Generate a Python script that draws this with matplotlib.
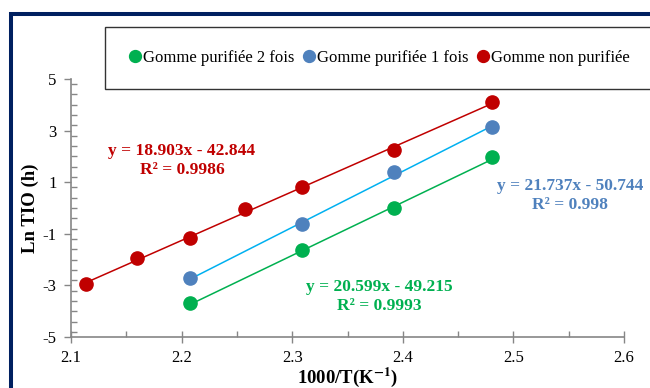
import numpy as np
import matplotlib
matplotlib.use("Agg")
import matplotlib.pyplot as plt
from matplotlib.patches import Rectangle
from matplotlib.ticker import MultipleLocator

plt.rcParams['font.family'] = ['Liberation Serif', 'DejaVu Serif']
plt.rcParams['mathtext.fontset'] = 'stix'

# Data
x_red = [2.114, 2.160, 2.2075, 2.257, 2.309, 2.392, 2.481]
y_red = [-2.95, -1.94, -1.16, -0.04, 0.81, 2.25, 4.11]
x_blue = [2.2075, 2.309, 2.392, 2.481]
y_blue = [-2.71, -0.62, 1.40, 3.14]
x_green = [2.2075, 2.309, 2.392, 2.481]
y_green = [-3.68, -1.63, 0.00, 1.98]

labels = ["Gomme purifiée 2 fois", "Gomme purifiée 1 fois", "Gomme non purifiée"]
slopes = {"red": 18.903, "blue": 21.737, "green": 20.599}
intercepts = {"red": -42.844, "blue": -50.744, "green": -49.215}
r2s = {"red": "0.9986", "blue": "0.998", "green": "0.9993"}
x_ticks = [2.1, 2.2, 2.3, 2.4, 2.5, 2.6]
y_ticks = [-5, -3, -1, 1, 3, 5]

c_red = "#C00000"
c_blue_m = "#4F81BD"
c_blue_l = "#00B0F0"
c_green = "#00B050"

fig = plt.figure(figsize=(6.5, 3.88), dpi=100)
ax = fig.add_axes([71/650, 1-337/388, (624-71)/650, (337-79)/388])

def trend(xs, key, color):
    m, b = slopes[key], intercepts[key]
    xx = np.array([min(xs), max(xs)])
    ax.plot(xx, m*xx + b, color=color, lw=1.1, zorder=2)

trend(x_red, "red", c_red)
trend(x_blue, "blue", c_blue_l)
trend(x_green, "green", c_green)

ms = 9.5
hg, = ax.plot(x_green, y_green, 'o', color=c_green, ms=ms, mec=c_green, zorder=3, label=labels[0])
hb, = ax.plot(x_blue, y_blue, 'o', color=c_blue_m, ms=ms, mec=c_blue_m, zorder=3, label=labels[1])
hr, = ax.plot(x_red, y_red, 'o', color=c_red, ms=ms, mec=c_red, zorder=3, label=labels[2])

ax.set_xlim(2.1, 2.6)
ax.set_ylim(-5, 5)
ax.xaxis.set_minor_locator(MultipleLocator(0.05))
ax.yaxis.set_minor_locator(MultipleLocator(0.4))
ax.set_xticks(x_ticks)
ax.set_xticklabels(["%g" % v for v in x_ticks])
ax.set_yticks(y_ticks)
ax.set_yticklabels(["%g" % v for v in y_ticks])

for s in ["top", "right"]:
    ax.spines[s].set_visible(False)
for s in ["left", "bottom"]:
    ax.spines[s].set_color("#868686")
    ax.spines[s].set_linewidth(1.2)

ax.tick_params(axis='x', which='major', direction='inout', length=8, color="#868686", width=1, labelsize=12, pad=5)
ax.tick_params(axis='x', which='minor', direction='in', length=4, color="#868686", width=1)
ax.tick_params(axis='y', which='major', direction='out', length=5, color="#868686", width=1, labelsize=12, pad=5.5)
ax.tick_params(axis='y', which='minor', direction='in', length=4, color="#868686", width=1)

ax.set_xlabel(r"1000/T(K$^{\mathbf{-1}}$)", fontsize=13.5, fontweight='bold', labelpad=0)
ax.set_ylabel("Ln TIO (h)", fontsize=13.5, fontweight='bold', labelpad=2.5)

def eqtext(key):
    return "y = %.3fx - %.3f\nR² = %s" % (slopes[key], -intercepts[key], r2s[key])

kw = dict(fontsize=12.5, fontweight='bold', ha='center', va='center', linespacing=1.25)
ax.text(2.2004, 1.86, eqtext("red"), color=c_red, **kw)
ax.text(2.551, 0.47, eqtext("blue"), color=c_blue_m, **kw)
ax.text(2.379, -3.43, eqtext("green"), color=c_green, **kw)

leg = fig.legend(handles=[hg, hb, hr], labels=labels, loc='center',
                 bbox_to_anchor=(379/650, 1-58/388),
                 ncol=3, fontsize=12, frameon=True, fancybox=False, borderpad=1.4,
                 handlelength=0.8, handletextpad=0.1, columnspacing=0.45, markerscale=0.9,
                 borderaxespad=0)
leg.get_frame().set_edgecolor("black")
leg.get_frame().set_linewidth(1.0)

fig.patches.append(Rectangle((10.5/650, -0.2), 1.2, (1 - 14/388) + 0.2,
                             transform=fig.transFigure, fill=False, edgecolor="#002060",
                             linewidth=2.9, clip_on=False))

fig.savefig("out.png", dpi=100)
